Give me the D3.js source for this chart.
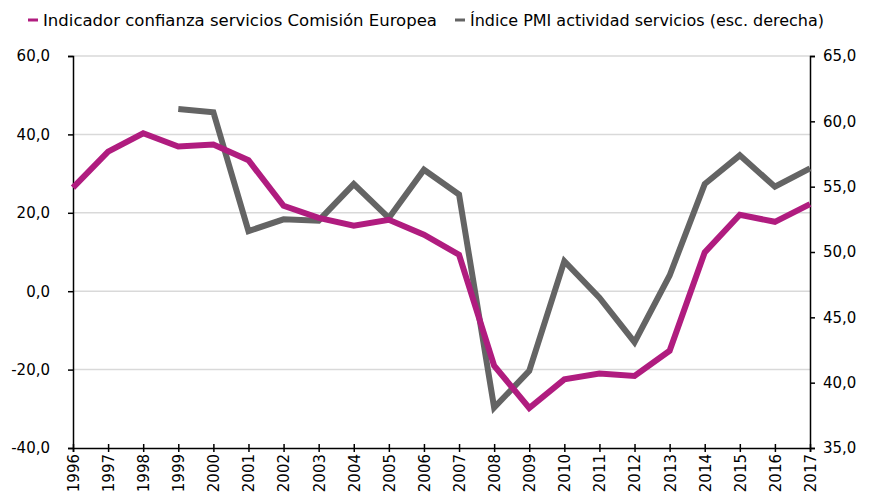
<!DOCTYPE html>
<html>
<head>
<meta charset="utf-8">
<script src="https://cdn.jsdelivr.net/npm/d3@7"></script>
<style>
    body { margin: 0; background: #fff; }
</style>
</head>
<body>
<svg id="chart" width="871" height="497"></svg>
<script>
    // years on the x axis
    const years = d3.range(1996, 2018);

    // Indicador confianza servicios Comisión Europea (left axis)
    const confianza = [26.4, 35.6, 40.3, 36.9, 37.4, 33.4, 21.8, 18.7, 16.7, 18.2, 14.4, 9.3,
        -19.0, -29.8, -22.5, -21.0, -21.6, -15.2, 9.9, 19.5, 17.7, 22.2];

    // Índice PMI actividad servicios (right axis), starts in 1999
    const pmi = [null, null, null, 60.95, 60.7, 51.6, 52.5, 52.4, 55.2, 52.6, 56.3, 54.4,
        38.1, 40.9, 49.3, 46.5, 43.1, 48.2, 55.2, 57.4, 55.0, 56.4];

    const leftTicks = [-40, -20, 0, 20, 40, 60];
    const rightTicks = [35, 40, 45, 50, 55, 60, 65];

    const legendItems = [
        { label: "Indicador confianza servicios Comisión Europea", color: "#b01c7f" },
        { label: "Índice PMI actividad servicios (esc. derecha)", color: "#646464" }
    ];

    const svg = d3.select("#chart");
    const margin = { left: 73, right: 61, top: 56, bottom: 49 };
    const width = 871 - margin.left - margin.right;
    const height = 497 - margin.top - margin.bottom;

    const x = d3.scaleLinear().domain([1996, 2017]).range([0, width]);
    const yL = d3.scaleLinear().domain([-40, 60]).range([height, 0]);
    const yR = d3.scaleLinear().domain([35, 65]).range([height, 0]);

    // spanish style: comma decimals, plain hyphen for negatives
    const fmt = d => d.toFixed(1).replace(".", ",");

    const g = svg.append("g").attr("transform", `translate(${margin.left},${margin.top})`);

    // gridlines
    g.selectAll(".grid")
        .data(leftTicks.filter(d => d > -40))
        .enter()
        .append("line")
        .attr("x1", 0).attr("x2", width)
        .attr("y1", d => yL(d)).attr("y2", d => yL(d))
        .attr("stroke", "#d9d9d9")
        .attr("stroke-width", 1.5);

    // left axis
    const leftAxis = g.append("g")
        .call(d3.axisLeft(yL).tickValues(leftTicks).tickFormat(fmt).tickSize(5).tickPadding(18));
    // right axis
    const rightAxis = g.append("g")
        .attr("transform", `translate(${width},0)`)
        .call(d3.axisRight(yR).tickValues(rightTicks).tickFormat(fmt).tickSize(5).tickPadding(8));
    // bottom axis
    const bottomAxis = g.append("g")
        .attr("transform", `translate(0,${height})`)
        .call(d3.axisBottom(x).tickValues(years).tickFormat(d3.format("d")).tickSize(4));
    bottomAxis.selectAll(".tick line").attr("y1", -4);
    bottomAxis.selectAll("text")
        .attr("transform", "rotate(-90)")
        .attr("text-anchor", "end")
        .attr("x", -6)
        .attr("y", 0)
        .attr("dy", "0.36em");

    [leftAxis, rightAxis, bottomAxis].forEach(a => {
        a.attr("font-family", "'DejaVu Sans', Verdana, sans-serif").attr("font-size", 15);
        a.select(".domain").attr("stroke", "#000").attr("stroke-width", 1.5);
        a.selectAll(".tick line").attr("stroke", "#000").attr("stroke-width", 1.5);
        a.selectAll("text").attr("fill", "#000");
    });

    // lines
    const lineL = d3.line().x((d, i) => x(years[i])).y(d => yL(d));
    const lineR = d3.line().defined(d => d !== null).x((d, i) => x(years[i])).y(d => yR(d));

    g.append("path")
        .datum(pmi)
        .attr("d", lineR)
        .attr("fill", "none")
        .attr("stroke", legendItems[1].color)
        .attr("stroke-width", 6);

    g.append("path")
        .datum(confianza)
        .attr("d", lineL)
        .attr("fill", "none")
        .attr("stroke", legendItems[0].color)
        .attr("stroke-width", 6);

    // legend
    const legend = svg.append("g").attr("class", "legend");
    const legendX = [28, 455];
    const legendW = [394, 354];
    legendItems.forEach((item, i) => {
        legend.append("line")
            .attr("x1", legendX[i]).attr("x2", legendX[i] + 10)
            .attr("y1", 20).attr("y2", 20)
            .attr("stroke", item.color)
            .attr("stroke-width", 3);
        legend.append("text")
            .attr("x", legendX[i] + 15)
            .attr("y", 26)
            .attr("font-family", "'DejaVu Sans Condensed', 'DejaVu Sans', sans-serif")
            .attr("font-size", 16.5)
            .attr("textLength", legendW[i])
            .attr("lengthAdjust", "spacingAndGlyphs")
            .attr("fill", "#000")
            .text(item.label);
    });
</script>
</body>
</html>
